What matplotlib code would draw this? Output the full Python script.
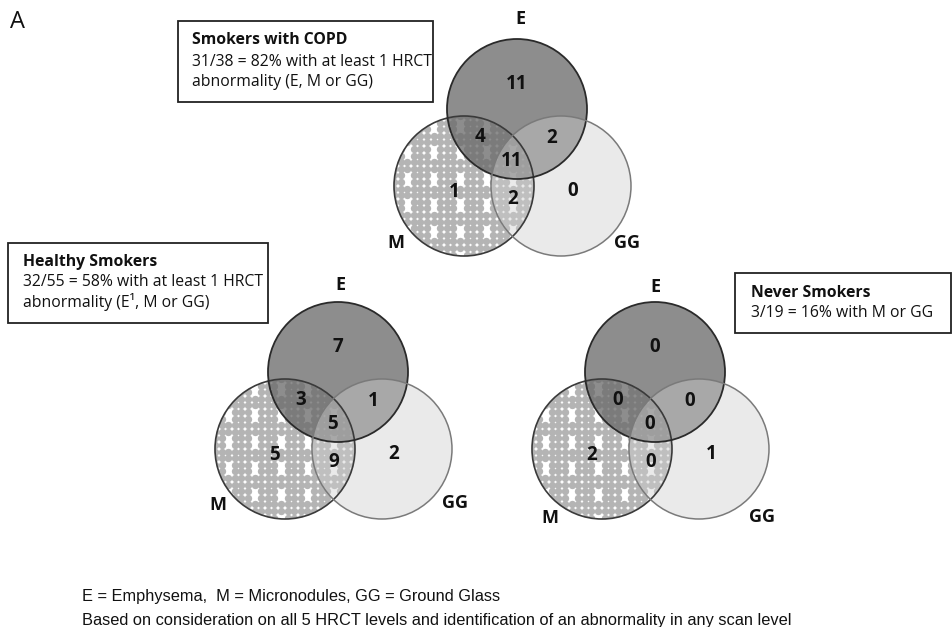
import numpy as np
import matplotlib.pyplot as plt
from matplotlib.patches import Circle, Rectangle

# --- data: counts per Venn region -------------------------------------
# region order: E only, E&M, E&GG, E&M&GG, M only, M&GG, GG only
regions = ["E", "EM", "EG", "EMG", "M", "MG", "G"]
copd_counts = [11, 4, 2, 11, 1, 2, 0]
healthy_counts = [7, 3, 1, 5, 5, 9, 2]
never_counts = [0, 0, 0, 0, 2, 0, 1]

set_names = ["E", "M", "GG"]

box_titles = ["Smokers with COPD", "Healthy Smokers", "Never Smokers"]
box_lines = [
    ["31/38 = 82% with at least 1 HRCT", "abnormality (E, M or GG)"],
    ["32/55 = 58% with at least 1 HRCT", "abnormality (E\u00b9, M or GG)"],
    ["3/19 = 16% with M or GG"],
]
footer = [
    "E = Emphysema,  M = Micronodules, GG = Ground Glass",
    "Based on consideration on all 5 HRCT levels and identification of an abnormality in any scan level",
]

# --- layout (pixel coordinates, y downwards) ---------------------------
R = 70
M_OFF = (-53, 77)
G_OFF = (44, 77)
num_off = {"E": (0, -25), "EM": (-37, 28), "EG": (35, 29), "EMG": (-5, 52),
           "M": (-63, 83), "MG": (-4, 90), "G": (56, 82)}

panels = [
    dict(center=(517, 109), counts=copd_counts,
         labels={"E": (3, -90), "M": (-121, 134), "GG": (110, 134)},
         box=(178, 21, 255, 81), text_x=192, text_y=[40, 62, 82]),
    dict(center=(338, 372), counts=healthy_counts,
         labels={"E": (2, -87), "M": (-120, 133), "GG": (117, 131)},
         box=(8, 243, 260, 80), text_x=23, text_y=[262, 282, 302]),
    dict(center=(655, 372), counts=never_counts,
         labels={"E": (0, -85), "M": (-105, 146), "GG": (107, 145)},
         box=(735, 273, 216, 60), text_x=751, text_y=[293, 313]),
]

FONT = ["Open Sans", "DejaVu Sans"]
NARROW = ["Liberation Sans Narrow", "Liberation Sans", "DejaVu Sans"]

fig = plt.figure(figsize=(9.52, 6.27), dpi=100)
ax = fig.add_axes([0, 0, 1, 1])
ax.set_xlim(0, 952)
ax.set_ylim(627, 0)
ax.axis("off")


def draw_venn(ax, cx, cy, counts, labels):
    mx, my = cx + M_OFF[0], cy + M_OFF[1]
    gx, gy = cx + G_OFF[0], cy + G_OFF[1]

    # micronodules: white disc with a dotted fill
    m_disc = Circle((mx, my), R, facecolor="white", edgecolor="none", zorder=1)
    ax.add_patch(m_disc)
    step = 6.6
    xs, ys = [], []
    for i, x in enumerate(np.arange(mx - R, mx + R + step, step)):
        for j, y in enumerate(np.arange(my - R, my + R + step, step)):
            # leave short white slits in the dot grid
            if i % 4 == 2 and j % 4 in (1, 2):
                continue
            xs.append(x)
            ys.append(y)
    dots = ax.scatter(xs, ys, s=28, color="#b4b4b4", linewidths=0, zorder=2)
    dots.set_clip_path(m_disc)

    # emphysema: dark translucent disc
    ax.add_patch(Circle((cx, cy), R, facecolor="#6a6a6a", alpha=0.76,
                        edgecolor="none", zorder=3))
    # ground glass: light translucent disc
    ax.add_patch(Circle((gx, gy), R, facecolor="#cfcfcf", alpha=0.42,
                        edgecolor="none", zorder=4))

    # outlines
    ax.add_patch(Circle((mx, my), R, fill=False, edgecolor="#3a3a3a", lw=1.2, zorder=5))
    ax.add_patch(Circle((cx, cy), R, fill=False, edgecolor="#2a2a2a", lw=1.3, zorder=5))
    ax.add_patch(Circle((gx, gy), R, fill=False, edgecolor="#7a7a7a", lw=1.1, zorder=5))

    for key, n in zip(regions, counts):
        dx, dy = num_off[key]
        ax.text(cx + dx, cy + dy, str(n), ha="center", va="center",
                fontsize=13.5, fontweight="bold", family=FONT, color="#111111", zorder=6)

    for name in set_names:
        dx, dy = labels[name]
        ax.text(cx + dx, cy + dy, name, ha="center", va="center",
                fontsize=13, fontweight="bold", family=FONT, color="#111111", zorder=6)


for p, title, lines in zip(panels, box_titles, box_lines):
    draw_venn(ax, p["center"][0], p["center"][1], p["counts"], p["labels"])

    bx, by, bw, bh = p["box"]
    ax.add_patch(Rectangle((bx, by), bw, bh, fill=False, edgecolor="#222222",
                           lw=1.3, zorder=5))
    ax.text(p["text_x"], p["text_y"][0], title, ha="left", va="center",
            fontsize=11.3, fontweight="bold", family=FONT, color="#111111", zorder=6)
    for y, line in zip(p["text_y"][1:], lines):
        ax.text(p["text_x"], y, line, ha="left", va="center",
                fontsize=11.3, family=FONT, color="#111111", zorder=6)

# panel letter
ax.text(10, 22, "A", ha="left", va="center", fontsize=17, family=FONT, color="#111111")

# footnotes
ax.text(82, 597, footer[0], ha="left", va="center", fontsize=11.8,
        family=NARROW, color="#111111")
ax.text(82, 621, footer[1], ha="left", va="center", fontsize=11.8,
        family=NARROW, color="#111111")

fig.savefig("out.png", dpi=100)
